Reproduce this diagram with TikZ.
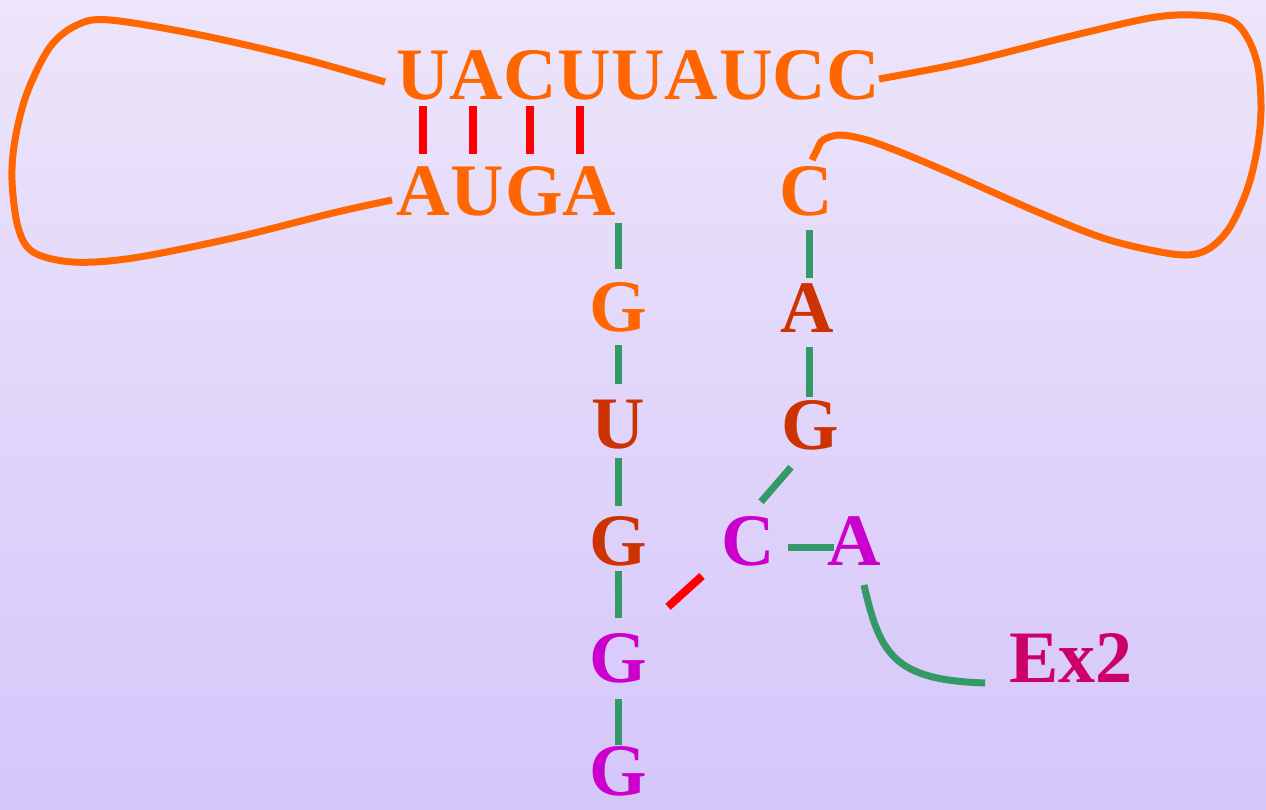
\documentclass[tikz,border=0pt]{standalone}
\usepackage{fontspec}
\setmainfont{Liberation Serif}
\usetikzlibrary{calc}
\definecolor{bgtop}{RGB}{237,229,250}
\definecolor{bgbot}{RGB}{213,198,250}
\definecolor{rnaorange}{RGB}{255,102,0}
\definecolor{rnarust}{RGB}{204,51,0}
\definecolor{rnamag}{RGB}{204,0,204}
\definecolor{exon}{RGB}{204,0,102}
\definecolor{bondgreen}{RGB}{51,153,102}
\definecolor{bondred}{RGB}{255,0,0}
\begin{document}
\begin{tikzpicture}[x=1pt,y=-1pt,
  nt/.style={anchor=base,inner sep=0pt,text height=50pt,text depth=0pt,
             font=\fontsize{74}{74}\selectfont\bfseries},
  orng/.style={nt,text=rnaorange},
  rust/.style={nt,text=rnarust},
  mag/.style={nt,text=rnamag},
  gb/.style={draw=bondgreen,line width=7pt},
  rb/.style={draw=bondred,line width=8pt},
  strand/.style={draw=rnaorange,line width=7pt,line join=round}]

% background
\shade[top color=bgtop,bottom color=bgbot] (0,0) rectangle (1266,809);
\useasboundingbox (0,0) rectangle (1266,809);

% upper strand
\node[orng] (t1) at (423,99) {U};
\node[orng] (t2) at (476,99) {A};
\node[orng] (t3) at (530,99) {C};
\node[orng] (t4) at (584,99) {U};
\node[orng] (t5) at (638,99) {U};
\node[orng] (t6) at (691,99) {A};
\node[orng] (t7) at (746,99) {U};
\node[orng] (t8) at (799,99) {C};
\node[orng] (t9) at (853,99) {C};

% lower strand
\node[orng] (b1) at (423,215) {A};
\node[orng] (b2) at (477,215) {U};
\node[orng] (b3) at (534,215) {G};
\node[orng] (b4) at (589,215) {A};

% left stem
\node[orng] (g1) at (618,331) {G};
\node[rust] (g2) at (618,448) {U};
\node[rust] (g3) at (618,565) {G};
\node[mag]  (g4) at (618,682) {G};
\node[mag]  (g5) at (618,795) {G};

% right stem
\node[orng] (c1) at (806,215) {C};
\node[rust] (c2) at (807,332) {A};
\node[rust] (c3) at (810,449) {G};

% junction
\node[mag] (cM) at (748,565) {C};
\node[mag] (aM) at (854,565) {A};
\node[nt,text=exon] (ex) at (1071,682) {Ex2};

% base pairs
\draw[rb,shorten <=7pt,shorten >=11pt] (t1.south) -- (t1.south |- b1.north);
\draw[rb,shorten <=7pt,shorten >=11pt] ($(t2.south)+(-3,0)$) -- ($(t2.south |- b2.north)+(-3,0)$);
\draw[rb,shorten <=7pt,shorten >=11pt] (t3.south) -- (t3.south |- b3.north);
\draw[rb,shorten <=7pt,shorten >=11pt] ($(t4.south)+(-4,0)$) -- ($(t4.south |- b4.north)+(-4,0)$);

% backbone links
\draw[gb,shorten <=8pt,shorten >=12pt] (g1.north |- b4.south) -- (g1.north);
\draw[gb,shorten <=14pt,shorten >=14pt] (g1.south) -- (g2.north);
\draw[gb,shorten <=10pt,shorten >=9pt] (g2.south) -- (g3.north);
\draw[gb,shorten <=6pt,shorten >=14pt] (g3.south) -- (g4.north);
\draw[gb,shorten <=17pt,shorten >=0pt] (g4.south) -- (g5.north);
\draw[gb,shorten <=15pt,shorten >=4pt] ($(c1.south)+(3,0)$) -- ($(c2.north)+(2,0)$);
\draw[gb,shorten <=15pt,shorten >=2pt] ($(c2.south)+(2,0)$) -- ($(c3.north)+(-1,0)$);
\draw[gb] ($(c3.south)+(-19,18)$) -- ($(cM.north)+(13,-13)$);
\draw[gb] ($(cM.base)+(40,-18)$) -- ($(aM.base)+(-20,-18)$);
\draw[rb] ($(cM.base)+(-46,11)$) -- ($(g4.north)+(50,-25)$);
\draw[gb] ($(aM.base)+(10,20)$) .. controls ($(aM.base)+(26,90)$) and ($(ex.base west)+(-115,-2)$) .. ($(ex.base west)+(-24,1)$);

% loops
\draw[strand] plot[smooth,tension=0.55] coordinates {
  (385,82) (300,58) (200,35) (110,20) (77,25) (50,47) (27,93) (15,140)
  (12,180) (18,227) (33,252) (73,262) (133,258) (233,238) (333,213)
  (392,200)};
\draw[strand] plot[smooth,tension=0.55] coordinates {
  (879,79) (967,62) (1067,37) (1150,18) (1193,15) (1230,20) (1247,37)
  (1258,67) (1261,110) (1257,150) (1247,190) (1230,227) (1210,248)
  (1187,255) (1150,250) (1100,237) (1033,210) (950,173) (900,152)
  (867,140) (840,135) (823,140) (817,150) (812,160)};
\end{tikzpicture}
\end{document}
